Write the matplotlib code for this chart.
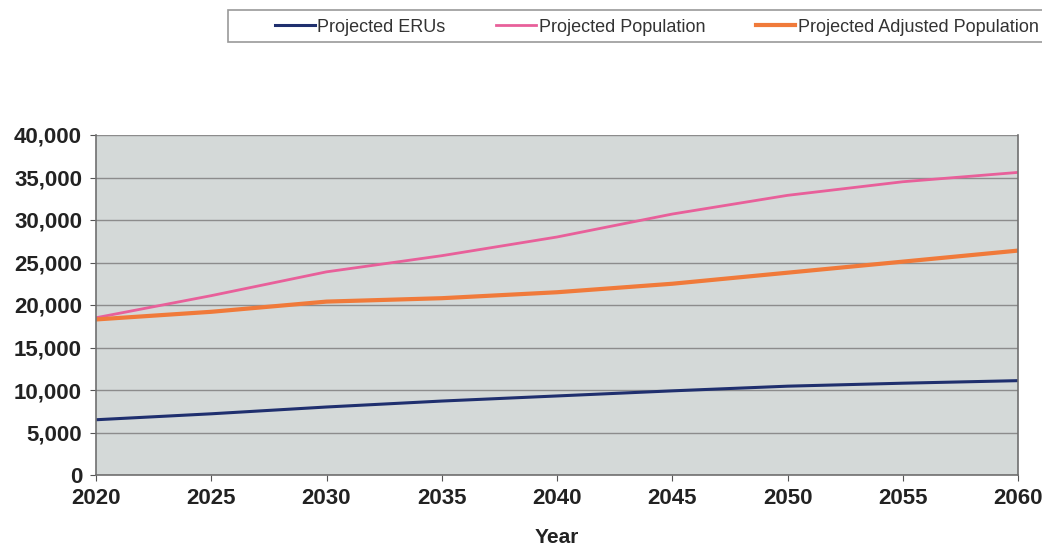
import matplotlib
matplotlib.use("Agg")
import matplotlib.pyplot as plt
from matplotlib.ticker import FuncFormatter
from matplotlib.patches import Rectangle

years = [2020, 2025, 2030, 2035, 2040, 2045, 2050, 2055, 2060]
erus = [6500, 7200, 8000, 8700, 9300, 9900, 10450, 10800, 11100]
population = [18500, 21100, 23900, 25800, 28000, 30700, 32900, 34500, 35600]
adjusted = [18300, 19200, 20400, 20800, 21500, 22500, 23800, 25100, 26400]
labels = ["Projected ERUs", "Projected Population", "Projected Adjusted Population"]

plt.rcParams['font.family'] = ['Liberation Sans', 'DejaVu Sans']

W, H = 1042, 548
fig = plt.figure(figsize=(W / 100, H / 100), dpi=100)
ax = fig.add_axes([96 / W, 1 - 475 / H, (1018 - 96) / W, (475 - 135) / H])
ax.set_facecolor('#d4d9d8')

l1, = ax.plot(years, erus, color='#1f2f6e', lw=2.2, label=labels[0])
l2, = ax.plot(years, population, color='#e8609a', lw=2.0, label=labels[1])
l3, = ax.plot(years, adjusted, color='#f07a3a', lw=3.0, label=labels[2])

ax.set_xlim(2020, 2060)
ax.set_ylim(0, 40000)
ax.set_xticks(range(2020, 2061, 5))
ax.set_yticks(range(0, 40001, 5000))
ax.yaxis.set_major_formatter(FuncFormatter(lambda v, p: f"{int(v):,}"))
ax.grid(axis='y', color='#8c8c8c', lw=1.0)
ax.set_axisbelow(True)
for s in ['left', 'bottom', 'right']:
    ax.spines[s].set_color('#707070')
    ax.spines[s].set_linewidth(1.2)
ax.spines['top'].set_visible(False)
ax.tick_params(axis='both', labelsize=16, colors='#555555', labelcolor='#222222', length=4)
for t in ax.get_xticklabels() + ax.get_yticklabels():
    t.set_fontweight('bold')
ax.tick_params(axis='x', pad=5)
ax.tick_params(axis='y', pad=6)
ax.set_xlabel("Year", fontsize=15, fontweight='bold', color='#222222', labelpad=14)

# legend frame
fig.patches.append(Rectangle((228 / W, 1 - 42 / H), (1050 - 228) / W, 32 / H,
                             transform=fig.transFigure, facecolor='white',
                             edgecolor='#999999', lw=1.2, zorder=0))
leg = fig.legend(handles=[l1, l2, l3], loc='center left', bbox_to_anchor=(275 / W, 1 - 27 / H),
                 ncol=3, frameon=False, fontsize=13, handlelength=2.2, handletextpad=0.15,
                 columnspacing=2.8, borderpad=0, borderaxespad=0)
for t in leg.get_texts():
    t.set_color('#333333')

fig.savefig("out.png", dpi=100)
